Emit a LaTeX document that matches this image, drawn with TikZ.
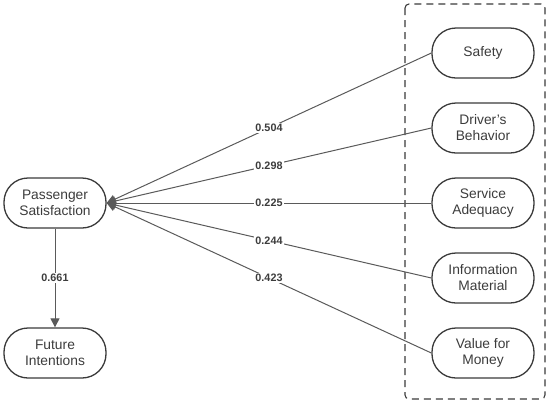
\documentclass[tikz,border=0pt]{standalone}
\usepackage{fontspec}
\setmainfont{Liberation Sans}
\usetikzlibrary{arrows.meta}
\definecolor{edgec}{HTML}{5A5A5A}
\definecolor{boxc}{HTML}{3A3A3A}
\definecolor{txtc}{HTML}{3C3C3C}
\begin{document}
\begin{tikzpicture}[x=1pt,y=-1pt,
  pill/.style={draw=boxc, line width=1.3pt, rounded corners=24pt, minimum width=102pt, minimum height=50pt, inner sep=0pt, align=center, text=txtc, font=\fontsize{13.8}{16}\selectfont},
  wt/.style={fill=white, inner sep=1pt, text=txtc, font=\bfseries\fontsize{10.8}{12}\selectfont},
  conn/.style={draw=edgec, line width=1pt, -{Triangle[length=9pt,width=9pt]}}
]
\useasboundingbox (0,0) rectangle (550,408);
\draw[boxc, line width=1.1pt, dash pattern=on 7pt off 5pt, rounded corners=4pt] (405,4) rectangle (545,399);
\node[pill] (ps) at (55,203) {Passenger\\Satisfaction};
\node[pill] (fi) at (55,353) {Future\\Intentions};
\node[pill] (s1) at (483,53) {Safety};
\node[pill] (s2) at (483,128) {Driver\symbol{39}s\\Behavior};
\node[pill] (s3) at (483,203) {Service\\Adequacy};
\node[pill] (s4) at (483,278) {Information\\Material};
\node[pill] (s5) at (483,353) {Value for\\Money};
\draw[conn] (ps) -- node[wt] {0.661} (fi);
\draw[conn] (s1.west) -- node[wt, pos=0.5] {0.504} (ps.east);
\draw[conn] (s2.west) -- node[wt, pos=0.5] {0.298} (ps.east);
\draw[conn] (s3.west) -- node[wt, pos=0.5] {0.225} (ps.east);
\draw[conn] (s4.west) -- node[wt, pos=0.5] {0.244} (ps.east);
\draw[conn] (s5.west) -- node[wt, pos=0.5] {0.423} (ps.east);
\end{tikzpicture}
\end{document}
